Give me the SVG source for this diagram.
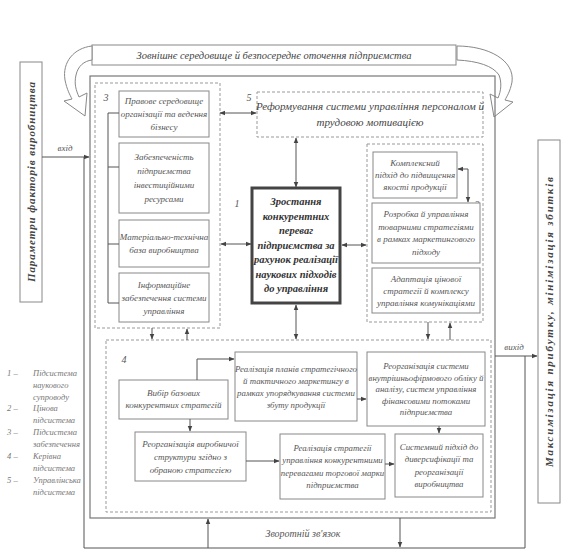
<svg xmlns="http://www.w3.org/2000/svg" width="574" height="553" viewBox="0 0 574 553">
<style>
.t{font-family:"Liberation Serif","DejaVu Serif",serif;font-style:italic;fill:#555;font-size:9px;text-anchor:middle}
.tb{font-family:"Liberation Serif","DejaVu Serif",serif;font-style:italic;font-weight:bold;fill:#333;text-anchor:middle}
.lg{font-family:"Liberation Serif","DejaVu Serif",serif;font-style:italic;fill:#777;font-size:8.5px}
.box{fill:#fff;stroke:#888;stroke-width:1}
.grp{fill:none;stroke:#999;stroke-width:1;stroke-dasharray:3 2}
.frame{fill:none;stroke:#777;stroke-width:1.2}
.c{fill:none;stroke:#555;stroke-width:1}
.curl{fill:#fff;stroke:#888;stroke-width:1}
</style>
<defs>
<marker id="ah" viewBox="0 0 10 10" refX="9" refY="5" markerWidth="6" markerHeight="6" orient="auto-start-reverse"><path d="M0,1 L10,5 L0,9 z" fill="#444"/></marker>
</defs>
<rect width="574" height="553" fill="#fff"/>

<g id="environment">
<rect class="box" x="92" y="45" width="364" height="20"/>
<text class="t" x="274" y="59" style="font-size:10.5px;fill:#444">Зовнішнє середовище й безпосереднє оточення підприємства</text>
<path class="curl" d="M92,46 C74,48 62,62 65,80 C67,90 70,95 72,99 L64,101 L85,116 L87,93 L79,97 C76,90 74,84 76,75 C78,66 84,61 92,60 Z"/>
<path class="curl" d="M457,46 C488,46 515,60 512,82 C510,92 507,96 505,100 L513,102 L494,117 L490,94 L498,98 C501,91 502,83 499,75 C493,66 478,61 457,60 Z"/>
</g>

<g id="frame">
<rect class="frame" x="90" y="76" width="405" height="442"/>
</g>

<g id="inputs">
<rect class="box" x="20" y="62" width="22" height="240"/>
<text class="tb" transform="translate(35,182) rotate(-90)" style="font-size:11px;fill:#444" textLength="200" lengthAdjust="spacing" x="0" y="0">Параметри факторів виробництва</text>
</g>

<g id="outputs">
<rect class="box" x="538" y="140" width="22" height="363"/>
<text class="tb" transform="translate(553,322) rotate(-90)" style="font-size:11px;fill:#444" textLength="290" lengthAdjust="spacing" x="0" y="0">Максимізація прибутку, мінімізація збитків</text>
</g>

<g id="subsystem3">
<rect class="grp" x="95" y="83" width="125" height="245"/>
<text class="t" x="106" y="101" style="font-size:10px">3</text>
<rect class="box" x="119" y="91" width="90" height="46"/>
<text class="t" x="164" y="104">Правове середовище</text>
<text class="t" x="164" y="117">організації та ведення</text>
<text class="t" x="164" y="130">бізнесу</text>
<rect class="box" x="119" y="143" width="90" height="70"/>
<text class="t" x="164" y="160">Забезпеченість</text>
<text class="t" x="164" y="174">підприємства</text>
<text class="t" x="164" y="188">інвестиційними</text>
<text class="t" x="164" y="202">ресурсами</text>
<rect class="box" x="119" y="220" width="90" height="47"/>
<text class="t" x="164" y="240">Матеріально-технічна</text>
<text class="t" x="164" y="253">база виробництва</text>
<rect class="box" x="119" y="273" width="90" height="49"/>
<text class="t" x="164" y="288">Інформаційне</text>
<text class="t" x="164" y="301">забезпечення системи</text>
<text class="t" x="164" y="314">управління</text>
</g>

<g id="subsystem5">
<rect class="grp" x="257" y="92" width="226" height="45"/>
<text class="t" x="249" y="101" style="font-size:10px">5</text>
<text class="t" x="370" y="110" style="font-size:11px;fill:#444">Реформування системи управління персоналом й</text>
<text class="t" x="370" y="126" style="font-size:11px;fill:#444">трудовою мотивацією</text>
</g>

<g id="core1">
<rect x="252" y="188" width="88" height="115" fill="#fff" stroke="#444" stroke-width="3"/>
<text class="t" x="237" y="207" style="font-size:10px">1</text>
<text class="tb" x="296" y="205" style="font-size:10.5px">Зростання</text>
<text class="tb" x="296" y="219.5" style="font-size:10.5px">конкурентних</text>
<text class="tb" x="296" y="234" style="font-size:10.5px">переваг</text>
<text class="tb" x="296" y="248.5" style="font-size:10.5px">підприємства за</text>
<text class="tb" x="296" y="263" style="font-size:10.5px">рахунок реалізації</text>
<text class="tb" x="296" y="277.5" style="font-size:10.5px">наукових підходів</text>
<text class="tb" x="296" y="292" style="font-size:10.5px">до управління</text>
</g>

<g id="subsystem2">
<rect class="grp" x="367" y="144" width="116" height="178"/>
<text class="t" x="477" y="208" style="font-size:10px">2</text>
<rect class="box" x="373" y="152" width="84" height="46"/>
<text class="t" x="415" y="166">Комплексний</text>
<text class="t" x="415" y="178">підхід до підвищення</text>
<text class="t" x="415" y="190">якості продукції</text>
<rect class="box" x="372" y="203" width="108" height="60"/>
<text class="t" x="426" y="217">Розробка й управління</text>
<text class="t" x="426" y="229.5">товарними стратегіями</text>
<text class="t" x="426" y="242">в рамках маркетингового</text>
<text class="t" x="426" y="254.5">підходу</text>
<rect class="box" x="372" y="268" width="108" height="45"/>
<text class="t" x="426" y="281.5">Адаптація цінової</text>
<text class="t" x="426" y="293.5">стратегії й комплексу</text>
<text class="t" x="426" y="305.5">управління комунікаціями</text>
</g>

<g id="subsystem4">
<rect class="grp" x="106" y="340" width="385" height="172"/>
<text class="t" x="124" y="363" style="font-size:10px">4</text>
<rect class="box" x="119" y="380" width="109" height="39"/>
<text class="t" x="173.5" y="396">Вибір базових</text>
<text class="t" x="173.5" y="408">конкурентних стратегій</text>
<rect class="box" x="235" y="352" width="122" height="69"/>
<text class="t" x="296" y="371.5" style="font-size:8.8px">Реалізація планів стратегічного</text>
<text class="t" x="296" y="383.5" style="font-size:8.8px">й тактичного маркетингу в</text>
<text class="t" x="296" y="395.5" style="font-size:8.8px">рамках упорядкування системи</text>
<text class="t" x="296" y="407.5" style="font-size:8.8px">збуту продукції</text>
<rect class="box" x="367" y="352" width="118" height="74"/>
<text class="t" x="426" y="369" style="font-size:8.8px">Реорганізація системи</text>
<text class="t" x="426" y="380.5" style="font-size:8.8px">внутрішньофірмового обліку й</text>
<text class="t" x="426" y="392" style="font-size:8.8px">аналізу, систем управління</text>
<text class="t" x="426" y="403.5" style="font-size:8.8px">фінансовими потоками</text>
<text class="t" x="426" y="415" style="font-size:8.8px">підприємства</text>
<rect class="box" x="135" y="432" width="111" height="49"/>
<text class="t" x="190.5" y="446.5">Реорганізація виробничої</text>
<text class="t" x="190.5" y="459.5">структури згідно з</text>
<text class="t" x="190.5" y="472.5">обраною стратегією</text>
<rect class="box" x="280" y="434" width="105" height="65"/>
<text class="t" x="332.5" y="450.5" style="font-size:8.8px">Реалізація стратегії</text>
<text class="t" x="332.5" y="463" style="font-size:8.8px">управління конкурентними</text>
<text class="t" x="332.5" y="475.5" style="font-size:8.8px">перевагами торгової марки</text>
<text class="t" x="332.5" y="488" style="font-size:8.8px">підприємства</text>
<rect class="box" x="395" y="434" width="88" height="63"/>
<text class="t" x="439" y="449.5" style="font-size:8.8px">Системний підхід до</text>
<text class="t" x="439" y="462" style="font-size:8.8px">диверсифікації та</text>
<text class="t" x="439" y="474.5" style="font-size:8.8px">реорганізації</text>
<text class="t" x="439" y="487" style="font-size:8.8px">виробництва</text>
</g>

<g id="legend">
<text class="lg" x="7" y="376">1 –</text><text class="lg" x="33" y="376">Підсистема</text>
<text class="lg" x="33" y="388">наукового</text>
<text class="lg" x="33" y="399.5">супроводу</text>
<text class="lg" x="7" y="411">2 –</text><text class="lg" x="33" y="411">Цінова</text>
<text class="lg" x="33" y="423">підсистема</text>
<text class="lg" x="7" y="435">3 –</text><text class="lg" x="33" y="435">Підсистема</text>
<text class="lg" x="33" y="447">забезпечення</text>
<text class="lg" x="7" y="459">4 –</text><text class="lg" x="33" y="459">Керівна</text>
<text class="lg" x="33" y="471">підсистема</text>
<text class="lg" x="7" y="483">5 –</text><text class="lg" x="33" y="483">Управлінська</text>
<text class="lg" x="33" y="494.5">підсистема</text>
</g>

<g id="connectors">
<path class="c" d="M119,113 H108 V303 H119 M108,167 H119 M108,244 H119"/>
<path class="c" d="M220,113 H256" marker-start="url(#ah)" marker-end="url(#ah)"/>
<path class="c" d="M221,244 H251" marker-start="url(#ah)" marker-end="url(#ah)"/>
<path class="c" d="M296,138 V187" marker-start="url(#ah)" marker-end="url(#ah)"/>
<path class="c" d="M342,245 H366" marker-start="url(#ah)" marker-end="url(#ah)"/>
<path class="c" d="M296,305 V339" marker-start="url(#ah)" marker-end="url(#ah)"/>
<path class="c" d="M152,328 V339" marker-end="url(#ah)"/>
<path class="c" d="M187,340 V329" marker-end="url(#ah)"/>
<path class="c" d="M428,322 V339" marker-end="url(#ah)"/>
<path class="c" d="M450,340 V323" marker-end="url(#ah)"/>
<path class="c" d="M458,169 H468 V202" marker-start="url(#ah)" marker-end="url(#ah)"/>
<path class="c" d="M197,380 V359 H234" marker-end="url(#ah)"/>
<path class="c" d="M357,399 H366" marker-end="url(#ah)"/>
<path class="c" d="M190,419 V431" marker-end="url(#ah)"/>
<path class="c" d="M246,461 H279" marker-end="url(#ah)"/>
<path class="c" d="M385,464 H394" marker-end="url(#ah)"/>
<path class="c" d="M439,426 V433" marker-end="url(#ah)"/>
<path class="c" d="M42,157 H89" marker-end="url(#ah)"/>
<text class="t" x="65" y="151" style="font-size:9px">вхід</text>
<path class="c" d="M495,356 H537" marker-end="url(#ah)"/>
<text class="t" x="514" y="350" style="font-size:9px">вихід</text>
<path class="c" d="M525,356 V548 H84 V157"/>
<path class="c" d="M208,548 V519" marker-end="url(#ah)"/>
<path class="c" d="M400,518 V547" marker-end="url(#ah)"/>
<text class="t" x="303" y="537" style="font-size:10px">Зворотній зв'язок</text>
</g>
</svg>
